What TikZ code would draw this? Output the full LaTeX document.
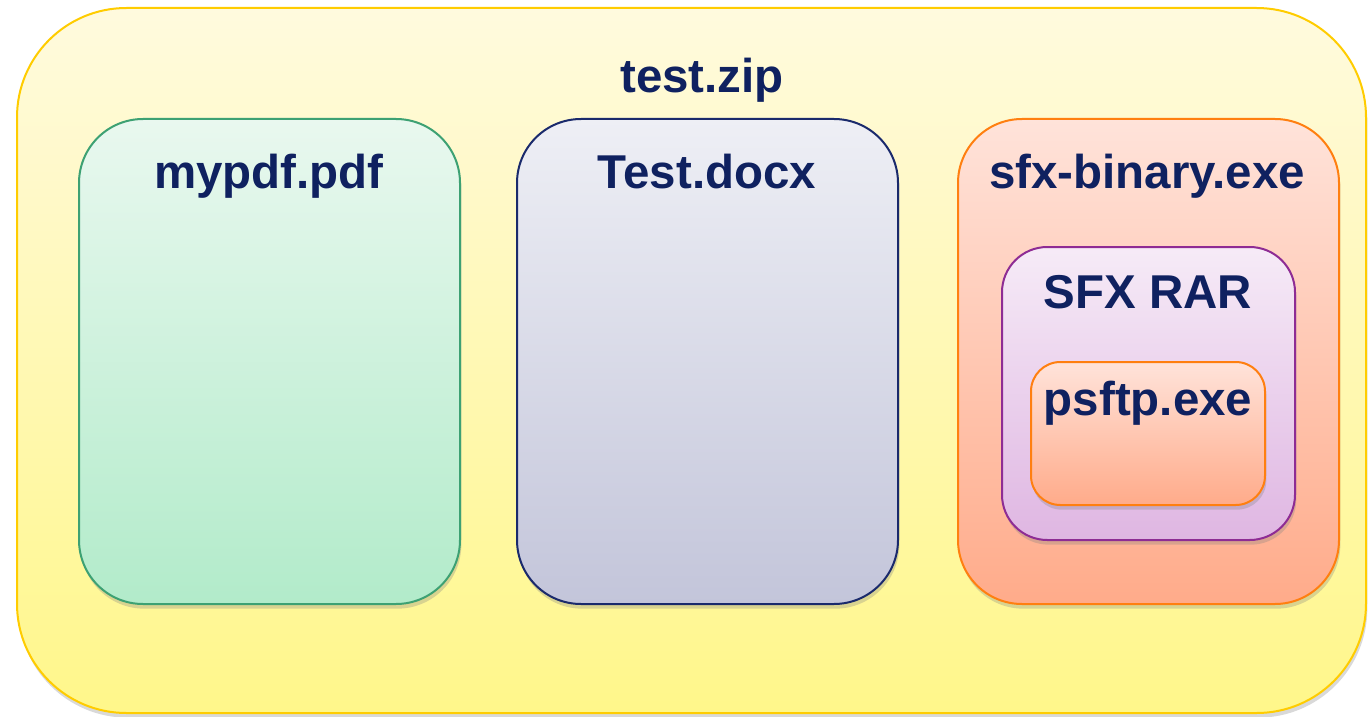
\documentclass[tikz,border=0pt]{standalone}
\usepackage{fontspec}
\setmainfont{Liberation Sans}
\usetikzlibrary{fit,shadows}

\definecolor{ink}{HTML}{0F2160}
\definecolor{zipline}{HTML}{FFCC00}
\definecolor{ziptop}{HTML}{FFFADE}
\definecolor{zipbot}{HTML}{FFF78A}
\definecolor{pdfline}{HTML}{3DA173}
\definecolor{pdftop}{HTML}{E9F8EF}
\definecolor{pdfbot}{HTML}{B2EBCA}
\definecolor{docline}{HTML}{1A2A6C}
\definecolor{doctop}{HTML}{EEEFF5}
\definecolor{docbot}{HTML}{C3C5DA}
\definecolor{exeline}{HTML}{FF7F10}
\definecolor{exetop}{HTML}{FFE3DA}
\definecolor{exebot}{HTML}{FFAB8A}
\definecolor{rarline}{HTML}{8E2C94}
\definecolor{rartop}{HTML}{F6EBF7}
\definecolor{rarbot}{HTML}{DFB6E2}

\begin{document}
\begin{tikzpicture}[x=0.75pt,y=-0.75pt,
  box/.style={draw, line width=1.5pt, inner sep=0pt,
    drop shadow={shadow xshift=1pt, shadow yshift=-3.5pt, opacity=0.3}},
  boxtitle/.style={anchor=base, text=ink, font=\bfseries\fontsize{35.6}{40}\selectfont}]
\useasboundingbox (0,0) rectangle (1368,717);

% the archive
\node[box, draw=zipline, top color=ziptop, bottom color=zipbot, rounded corners=82pt,
  fit={(17,8) (1366,713)}] (zip) {};
\node[boxtitle] (ziptitle) at (702,93) {test.zip};

% files inside it
\node[box, draw=pdfline, top color=pdftop, bottom color=pdfbot, rounded corners=48pt,
  fit={(79,119) (460,604)}] (pdf) {};
\node[boxtitle] (pdftitle) at (269,188) {mypdf.pdf};

\node[box, draw=docline, top color=doctop, bottom color=docbot, rounded corners=48pt,
  fit={(517,119) (898,604)}] (doc) {};
\node[boxtitle] (doctitle) at (707,188) {Test.docx};

\node[box, draw=exeline, top color=exetop, bottom color=exebot, rounded corners=48pt,
  fit={(958,119) (1339,604)}] (exe) {};
\node[boxtitle] (exetitle) at (1147,188) {sfx-binary.exe};

% nested sfx archive
\node[box, draw=rarline, top color=rartop, bottom color=rarbot, rounded corners=34pt,
  fit={(1002,247) (1295,540)}] (rar) {};
\node[boxtitle] (rartitle) at (1148,308) {SFX RAR};

\node[box, draw=exeline, top color=exetop, bottom color=exebot, rounded corners=22pt,
  fit={(1031,362) (1265,505)}] (psftp) {};
\node[boxtitle] (psftptitle) at (1148,415) {psftp.exe};
\end{tikzpicture}
\end{document}
